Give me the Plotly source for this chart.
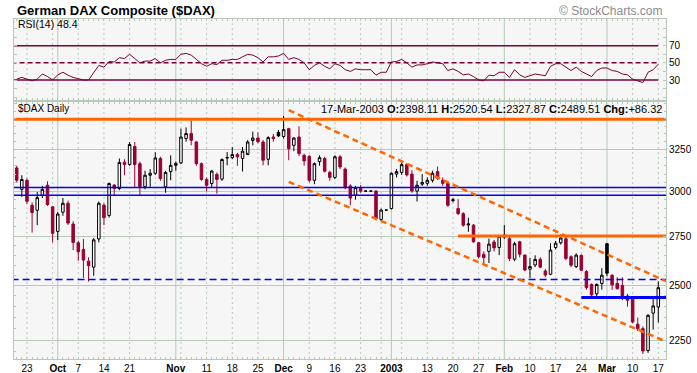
import pandas as pd
import plotly.graph_objects as go

# ---------------- data ----------------
holidays = ["2002-12-25", "2003-01-01"]
dates = [d.strftime("%Y-%m-%d") for d in pd.bdate_range("2002-09-19", "2003-03-17") if d.strftime("%Y-%m-%d") not in holidays]
pad_before = ["2002-09-18"]
pad_after = ["2003-03-18", "2003-03-19"]
axis_dates = pad_before + dates + pad_after

opens = [3137, 3010, 3063, 2919, 2891, 2976, 3034, 2910, 2775, 2880,
         2930, 2815, 2715, 2680, 2620, 2590, 2735, 2919, 2862, 3035,
         3015, 3172, 3158, 3270, 3163, 3026, 3093, 3105, 3195, 3025,
         3115, 3153, 3168, 3320, 3352, 3298, 3163, 3068, 3044, 3098,
         3070, 3198, 3200, 3219, 3195, 3219, 3307, 3323, 3298, 3190,
         3330, 3360, 3333, 3384, 3277, 3330, 3214, 3208, 3063, 3175,
         3195, 3110, 3080, 3205, 3130, 3030, 2975, 3020, 3000, 3000,
         3000, 2840, 2892, 2900, 3100, 3110, 3157, 3100, 3000, 3040,
         3045, 3063, 3115, 3063, 3045, 2945, 2900, 2872, 2810, 2809,
         2715, 2655, 2670, 2719, 2690, 2745, 2736, 2630, 2720, 2651,
         2580, 2601, 2630, 2571, 2555, 2690, 2715, 2736, 2643, 2593,
         2650, 2568, 2505, 2460, 2510, 2710, 2550, 2510, 2500, 2450,
         2435, 2320, 2300, 2205, 2370, 2398.11]
highs = [3150, 3093, 3075, 2935, 2995, 3030, 3057, 2915, 2880, 2960,
         2945, 2830, 2725, 2735, 2640, 2740, 2940, 2930, 3050, 3040,
         3195, 3190, 3298, 3298, 3175, 3120, 3130, 3233, 3205, 3120,
         3214, 3175, 3384, 3392, 3439, 3305, 3170, 3080, 3125, 3110,
         3195, 3235, 3266, 3230, 3266, 3310, 3365, 3360, 3310, 3335,
         3350, 3375, 3467, 3390, 3330, 3400, 3225, 3215, 3170, 3215,
         3205, 3120, 3215, 3215, 3140, 3040, 3030, 3035, 3000, 3000,
         3005, 2900, 2892, 3110, 3130, 3170, 3165, 3123, 3060, 3100,
         3080, 3120, 3145, 3080, 3050, 2960, 2953, 2880, 2850, 2815,
         2720, 2670, 2737, 2730, 2755, 2809, 2745, 2720, 2725, 2655,
         2636, 2650, 2640, 2580, 2713, 2725, 2760, 2745, 2650, 2660,
         2655, 2575, 2510, 2510, 2585, 2712, 2555, 2540, 2540, 2460,
         2440, 2350, 2310, 2365, 2440, 2520.54]
lows = [3050, 2966, 2925, 2769, 2809, 2960, 2915, 2717, 2729, 2860,
        2810, 2677, 2622, 2537, 2519, 2547, 2717, 2809, 2850, 2976,
        3005, 3093, 3150, 3024, 2976, 3010, 3024, 3095, 3060, 2990,
        3063, 3120, 3160, 3300, 3277, 3150, 3060, 2998, 3024, 2985,
        3060, 3153, 3190, 3150, 3115, 3230, 3277, 3290, 3153, 3153,
        3300, 3330, 3320, 3184, 3240, 3210, 3150, 3050, 3040, 3150,
        3110, 3060, 3070, 3130, 3010, 2919, 2950, 2990, 3000, 3000,
        2835, 2830, 2892, 2895, 3080, 3095, 3085, 2990, 2940, 3030,
        3030, 3050, 3065, 3030, 2910, 2935, 2865, 2800, 2773, 2715,
        2635, 2600, 2611, 2670, 2651, 2735, 2620, 2620, 2640, 2570,
        2537, 2590, 2585, 2540, 2550, 2680, 2705, 2625, 2590, 2585,
        2570, 2480, 2440, 2440, 2480, 2545, 2479, 2480, 2430, 2400,
        2325, 2290, 2190, 2195, 2296, 2327.87]
closes = [3063, 3068, 2941, 2878, 2962, 3010, 2923, 2765, 2870, 2930,
          2820, 2717, 2668, 2626, 2598, 2730, 2930, 2850, 3044, 3015,
          3170, 3158, 3282, 3158, 3026, 3093, 3105, 3198, 3073, 3110,
          3153, 3165, 3330, 3352, 3309, 3163, 3068, 3034, 3118, 3068,
          3188, 3200, 3219, 3205, 3240, 3298, 3323, 3300, 3184, 3326,
          3320, 3337, 3378, 3256, 3323, 3225, 3180, 3063, 3163, 3200,
          3117, 3080, 3205, 3143, 3020, 2960, 3020, 3000, 3000, 3000,
          2845, 2892, 2892, 3105, 3115, 3157, 3095, 3000, 3034, 3050,
          3063, 3105, 3075, 3045, 2919, 2950, 2872, 2809, 2815, 2720,
          2643, 2638, 2708, 2688, 2748, 2755, 2634, 2710, 2656, 2576,
          2593, 2629, 2590, 2551, 2677, 2713, 2740, 2634, 2600, 2651,
          2575, 2490, 2455, 2505, 2550, 2560, 2503, 2485, 2440, 2430,
          2330, 2300, 2203, 2360, 2403.19, 2489.51]
rsi = [31, 33, 31, 29, 31, 37, 34, 30, 36, 39,
       35.6, 33, 31.6, 30, 30, 39, 47, 45, 51.6, 51,
       56, 55, 60, 55, 50, 52, 52, 55, 50, 53,
       54, 54, 60, 61, 59, 54, 49, 46, 49, 48,
       53, 53, 54, 54, 57, 60, 59, 56, 51, 57,
       57, 58, 61, 54, 56, 54, 50, 42, 47, 50,
       46, 43, 49, 47, 42, 40, 43, 42, 42, 42,
       35.6, 39, 39, 51, 51.6, 54, 50, 45, 47.6, 47.6,
       49, 51, 50, 49, 41, 43, 40, 36, 37, 34,
       30, 29, 35.6, 35, 39, 39, 33, 42, 36, 33,
       35, 37, 36, 35, 46, 49, 49, 45, 41, 45,
       40, 37, 34, 41, 44, 44, 41, 40, 37, 36,
       31, 29, 27, 39, 42, 48.4]

# reference lines (start date, end date, price)
resistance_top = ("2002-09-18", "2003-03-19", 3446)
blue_band = [("2002-09-18", "2003-03-19", 3020), ("2002-09-18", "2003-03-19", 2976)]
blue_dashed = ("2002-09-18", "2003-03-19", 2529)
orange_2750 = ("2003-01-21", "2003-03-19", 2750)
blue_support = ("2003-02-24", "2003-03-19", 2443)
channel_upper = (("2002-12-03", 3507), ("2003-03-19", 2515))
channel_lower = (("2002-12-03", 3054), ("2003-03-19", 2239))
rsi_levels = [70, 50, 30]

y_ticks = [2250, 2500, 2750, 3000, 3250]
label_dates = ["2002-09-23", "2002-10-01", "2002-10-07", "2002-10-14", "2002-10-21",
               "2002-11-01", "2002-11-11", "2002-11-18", "2002-11-25", "2002-12-02",
               "2002-12-09", "2002-12-16", "2002-12-23", "2003-01-02", "2003-01-13",
               "2003-01-20", "2003-01-27", "2003-02-03", "2003-02-10", "2003-02-17",
               "2003-02-24", "2003-03-03", "2003-03-10", "2003-03-17"]
label_texts = ["23", "<b>Oct</b>", "7", "14", "21", "<b>Nov</b>", "11", "18", "25", "<b>Dec</b>",
               "9", "16", "23", "<b>2003</b>", "13", "20", "27", "<b>Feb</b>", "10", "17",
               "24", "<b>Mar</b>", "10", "17"]
month_starts = ["2002-10-01", "2002-11-01", "2002-12-02", "2003-01-02", "2003-02-03", "2003-03-03"]

# ---------------- style ----------------
RED = "#990033"
BLACK = "#000000"
ORANGE = "#ff6600"
BLUE = "#0000ff"
MAROON = "#7a0036"
GRID = "#b7c9b7"
BG = "#f6f6f6"
FONT = "Liberation Sans, Arial, sans-serif"

fig = go.Figure()

# candle groups, StockCharts style
prev = [opens[0]] + closes[:-1]
groups = {
    "hollow_black": (BLACK, "#ffffff"),
    "hollow_red": (RED, "#ffffff"),
    "filled_red": (RED, RED),
    "filled_black": (BLACK, BLACK),
}
members = {k: [] for k in groups}
for i in range(len(dates)):
    up = closes[i] >= opens[i]
    higher = closes[i] >= prev[i]
    if up and higher:
        members["hollow_black"].append(i)
    elif up:
        members["hollow_red"].append(i)
    elif higher:
        members["filled_black"].append(i)
    else:
        members["filled_red"].append(i)

for key, (lc, fc) in groups.items():
    idx = members[key]
    if not idx:
        continue
    style = dict(line=dict(color=lc, width=1), fillcolor=fc)
    fig.add_trace(go.Candlestick(
        x=[dates[i] for i in idx], open=[opens[i] for i in idx], high=[highs[i] for i in idx],
        low=[lows[i] for i in idx], close=[closes[i] for i in idx],
        increasing=style, decreasing=style, whiskerwidth=0, hoverinfo="skip",
        xaxis="x", yaxis="y"))

def hline(spec, color, width, dash="solid"):
    x0, x1, p = spec
    fig.add_trace(go.Scatter(x=[x0, x1], y=[p, p], mode="lines",
                             line=dict(color=color, width=width, dash=dash),
                             hoverinfo="skip", xaxis="x", yaxis="y"))

hline(resistance_top, ORANGE, 3)
for b in blue_band:
    hline(b, BLUE, 1.5)
hline(blue_dashed, BLUE, 1.5, "7px,4px")
hline(orange_2750, ORANGE, 3)
hline(blue_support, BLUE, 3)
for ch in (channel_upper, channel_lower):
    fig.add_trace(go.Scatter(x=[ch[0][0], ch[1][0]], y=[ch[0][1], ch[1][1]], mode="lines",
                             line=dict(color=ORANGE, width=2.5, dash="6px,4px"),
                             hoverinfo="skip", xaxis="x", yaxis="y"))

# RSI panel
for lv in rsi_levels:
    fig.add_trace(go.Scatter(x=[pad_before[0], dates[-1]], y=[lv, lv], mode="lines",
                             line=dict(color=MAROON, width=1.5, dash="5px,3px" if lv == 50 else "solid"),
                             hoverinfo="skip", xaxis="x2", yaxis="y2"))
fig.add_trace(go.Scatter(x=dates, y=rsi, mode="lines", line=dict(color=MAROON, width=1),
                         hoverinfo="skip", xaxis="x2", yaxis="y2"))

# vertical grid lines
shapes = []
mondays = [d for d in dates if pd.Timestamp(d).dayofweek == 0]
for d in sorted(set(mondays) | set(month_starts)):
    solid = d in month_starts
    for xr, yr in (("x", "y domain"), ("x2", "y2 domain")):
        shapes.append(dict(type="line", xref=xr, yref=yr, x0=d, x1=d, y0=0, y1=1, layer="below",
                           line=dict(color=GRID, width=1, dash="solid" if solid else "2px,3px")))

ticktext_all = [label_texts[label_dates.index(d)] if d in label_dates else "" for d in dates]
xr = [0.474, 127.5]
common_x = dict(type="category", categoryorder="array", categoryarray=axis_dates, range=xr,
                showgrid=False, showline=True, linecolor=GRID, mirror="ticks",
                ticks="inside", ticklen=2, tickcolor=GRID, tickmode="array", tickvals=dates,
                rangeslider=dict(visible=False), fixedrange=True, automargin=False)

fig.update_layout(
    width=697, height=373,
    margin=dict(l=14, r=31, t=19, b=14, autoexpand=False),
    paper_bgcolor="#ffffff", plot_bgcolor=BG,
    showlegend=False, hovermode=False,
    font=dict(family=FONT, size=10, color="#000000"),
    shapes=shapes,
    xaxis=dict(common_x, anchor="y", domain=[0, 1], ticktext=ticktext_all,
               tickfont=dict(size=10, color="#000000")),
    xaxis2=dict(common_x, anchor="y2", domain=[0, 1], matches="x", showticklabels=False),
    yaxis=dict(type="log", domain=[0, 0.7545], side="right", anchor="x",
               range=[3.3363, 3.5514], tickmode="array", tickvals=y_ticks,
               ticktext=[str(v) for v in y_ticks], showgrid=True, gridcolor=GRID, gridwidth=1,
               showline=True, linecolor=GRID, mirror="ticks", ticks="inside", ticklen=3,
               tickcolor=GRID, zeroline=False, fixedrange=True, automargin=False,
               minor=dict(ticks="inside", ticklen=2, tickcolor=GRID, dtick="L50", showgrid=False)),
    yaxis2=dict(domain=[0.7618, 1], side="right", anchor="x2", range=[6.7, 101.1],
                tickmode="array", tickvals=[10, 20, 30, 40, 50, 60, 70, 80, 90],
                ticktext=["", "", "30", "", "50", "", "70", "", ""], showgrid=False,
                showline=True, linecolor=GRID, mirror="ticks", ticks="inside", ticklen=3,
                tickcolor=GRID, zeroline=False, fixedrange=True, automargin=False),
)

W0, W1, H0, H1 = 14, 666, 19, 359
def px(x):
    return (x - W0) / (W1 - W0)
def py(y):
    return (H1 - y) / (H1 - H0)

chg = closes[-1] - closes[-2]
last = pd.Timestamp(dates[-1])
info = (f"{last.day}-{last.strftime('%b')}-{last.year} <b>O:</b>{opens[-1]:.2f} <b>H:</b>{highs[-1]:.2f} "
        f"<b>L:</b>{lows[-1]:.2f} <b>C:</b>{closes[-1]:.2f} <b>Chg:</b>{chg:+.2f}")
annos = [
    dict(text="<b>German DAX Composite ($DAX)</b>", x=px(15), y=py(10.5), xanchor="left", yanchor="middle",
         font=dict(size=13, color="#000000")),
    dict(text="© StockCharts.com", x=px(665), y=py(11), xanchor="right", yanchor="middle",
         font=dict(size=12, color="#8c8c8c")),
    dict(text=f"RSI(14) {rsi[-1]}", x=px(16), y=py(24), xanchor="left", yanchor="middle",
         font=dict(size=10.5)),
    dict(text="$DAX Daily", x=px(16), y=py(109), xanchor="left", yanchor="middle",
         font=dict(size=10)),
    dict(text=info, x=px(664), y=py(109), xanchor="right", yanchor="middle",
         font=dict(size=11)),
]
for a in annos:
    a.update(xref="paper", yref="paper", showarrow=False)
fig.update_layout(annotations=annos)

fig.write_html("out.html", config={"displayModeBar": False},
               post_script="document.body.style.margin='0px';document.body.style.padding='0px';")
